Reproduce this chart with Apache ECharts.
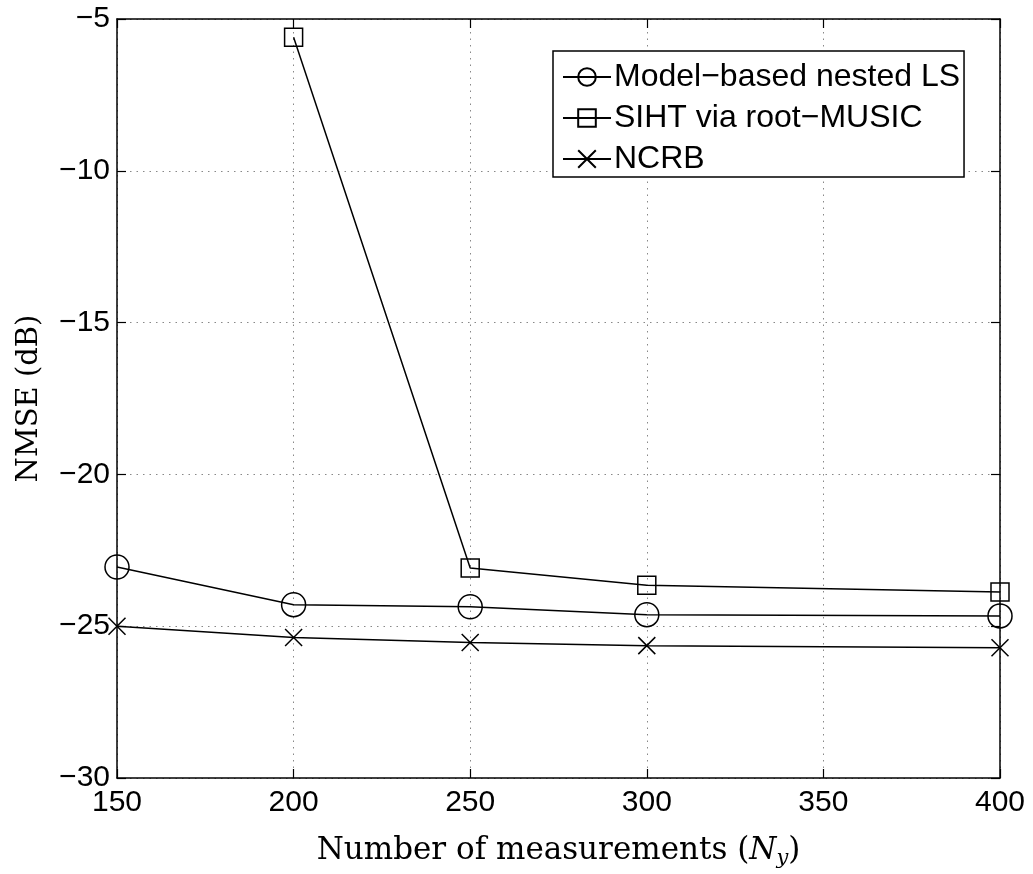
<!DOCTYPE html>
<html><head><meta charset="utf-8">
<script src="https://cdn.jsdelivr.net/npm/echarts@6/dist/echarts.min.js"></script>
<style>html,body{margin:0;padding:0;background:#fff}#c{width:1033px;height:874px}</style>
</head><body><div id="c"></div>
<script>
const xValues = [150, 200, 250, 300, 400];
const modelLS = [-23.05, -24.29, -24.36, -24.62, -24.66];
const sihtValues = [null, -5.6, -23.08, -23.65, -23.87];
const ncrbValues = [-25.0, -25.37, -25.54, -25.64, -25.71];
const seriesNames = ['Model\u2212based nested LS', 'SIHT via root\u2212MUSIC', 'NCRB'];
const xTicks = [150, 200, 250, 300, 350, 400];
const yTicks = [-30, -25, -20, -15, -10, -5];

const chart = echarts.init(document.getElementById('c'));
const pairs = arr => xValues.map((x, i) => [x, arr[i]]).filter(p => p[1] !== null);
const lab = v => String(v).replace('-', '\u2212');
const tickFont = {fontFamily: 'Liberation Sans, Arial, sans-serif', fontSize: 30, color: '#000'};
const serif = "'DejaVu Serif', serif";
const mk = (name, data, symbol, size) => ({
  name, type: 'line', data, symbol, symbolSize: size, showSymbol: true,
  lineStyle: {color: '#000', width: 1.5},
  itemStyle: {color: 'rgba(0,0,0,0)', borderColor: '#000', borderWidth: 1.5},
  emphasis: {disabled: true}, animation: false, z: 3
});
chart.setOption({
  animation: false,
  grid: {left: 117, right: 33, top: 19, bottom: 94, containLabel: false},
  legend: {
    orient: 'vertical', left: 553, top: 51, padding: [10, 4, 2, 9], itemGap: 9,
    itemWidth: 48, itemHeight: 22, borderColor: '#000', borderWidth: 1.5, backgroundColor: '#fff',
    textStyle: {fontFamily: 'Liberation Sans, Arial, sans-serif', fontSize: 32, lineHeight: 32, color: '#000', padding: [0,0,0,-2]},
    data: seriesNames
  },
  xAxis: [{
    type: 'value', min: 150, max: 400, interval: 50,
    axisLine: {show: true, lineStyle: {color: '#000', width: 1.5}},
    axisTick: {show: true, inside: true, length: 9, lineStyle: {color: '#000', width: 1.2}},
    axisLabel: Object.assign({margin: 10, formatter: v => xTicks.includes(v) ? lab(v) : ''}, tickFont),
    splitLine: {show: true, lineStyle: {color: '#888', type: [1.5, 5], width: 1}},
    name: '{n|Number of measurements (}{i|N}{s|y}{n|)}', nameLocation: 'middle', nameGap: 55,
    nameTextStyle: {rich: {
      n: {fontFamily: serif, fontSize: 31, color: '#000'},
      i: {fontFamily: serif, fontStyle: 'italic', fontSize: 31, color: '#000'},
      s: {fontFamily: serif, fontStyle: 'italic', fontSize: 21, color: '#000', padding: [15, 0, 0, 0]}
    }}
  }, {
    type: 'value', position: 'top', min: 150, max: 400, interval: 50,
    axisLine: {show: true, lineStyle: {color: '#000', width: 1.5}},
    axisTick: {show: true, inside: true, length: 9, lineStyle: {color: '#000', width: 1.2}},
    axisLabel: {show: false}, splitLine: {show: false}
  }],
  yAxis: [{
    type: 'value', min: -30, max: -5, interval: 5,
    axisLine: {show: true, lineStyle: {color: '#000', width: 1.5}},
    axisTick: {show: true, inside: true, length: 9, lineStyle: {color: '#000', width: 1.2}},
    axisLabel: Object.assign({margin: 7, formatter: v => yTicks.includes(v) ? lab(v) : ''}, tickFont),
    splitLine: {show: true, lineStyle: {color: '#888', type: [1.5, 5], width: 1}},
    name: 'NMSE (dB)', nameLocation: 'middle', nameGap: 73, nameRotate: 90,
    nameTextStyle: {fontFamily: serif, fontSize: 29, color: '#000'}
  }, {
    type: 'value', position: 'right', min: -30, max: -5, interval: 5,
    axisLine: {show: true, lineStyle: {color: '#000', width: 1.5}},
    axisTick: {show: true, inside: true, length: 9, lineStyle: {color: '#000', width: 1.2}},
    axisLabel: {show: false}, splitLine: {show: false}
  }],
  series: [
    mk(seriesNames[0], pairs(modelLS), 'circle', 24),
    mk(seriesNames[1], pairs(sihtValues), 'rect', 18),
    mk(seriesNames[2], pairs(ncrbValues), 'path://M0,0L10,10M10,0L0,10', 17)
  ]
});
</script></body></html>
